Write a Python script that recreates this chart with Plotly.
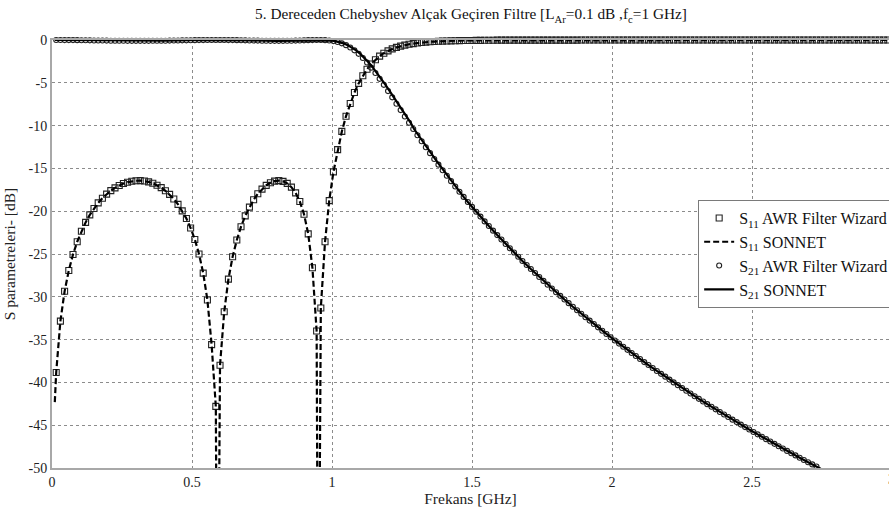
import plotly.graph_objects as go

# ---------------- data ----------------
freq_awr = [
    0.015, 0.03, 0.045, 0.06, 0.075, 0.09, 0.105, 0.12, 0.135, 0.15,
    0.165, 0.18, 0.195, 0.21, 0.225, 0.24, 0.255, 0.27, 0.285, 0.3,
    0.315, 0.33, 0.345, 0.36, 0.375, 0.39, 0.405, 0.42, 0.435, 0.45,
    0.465, 0.48, 0.495, 0.51, 0.525, 0.54, 0.555, 0.57, 0.585, 0.6,
    0.615, 0.63, 0.645, 0.66, 0.675, 0.69, 0.705, 0.72, 0.735, 0.75,
    0.765, 0.78, 0.795, 0.81, 0.825, 0.84, 0.855, 0.87, 0.885, 0.9,
    0.915, 0.93, 0.945, 0.96, 0.975, 0.99, 1.005, 1.02, 1.035, 1.05,
    1.065, 1.08, 1.095, 1.11, 1.125, 1.14, 1.155, 1.17, 1.185, 1.2,
    1.215, 1.23, 1.245, 1.26, 1.275, 1.29, 1.305, 1.32, 1.335, 1.35,
    1.365, 1.38, 1.395, 1.41, 1.425, 1.44, 1.455, 1.47, 1.485, 1.5,
    1.515, 1.53, 1.545, 1.56, 1.575, 1.59, 1.605, 1.62, 1.635, 1.65,
    1.665, 1.68, 1.695, 1.71, 1.725, 1.74, 1.755, 1.77, 1.785, 1.8,
    1.815, 1.83, 1.845, 1.86, 1.875, 1.89, 1.905, 1.92, 1.935, 1.95,
    1.965, 1.98, 1.995, 2.01, 2.025, 2.04, 2.055, 2.07, 2.085, 2.1,
    2.115, 2.13, 2.145, 2.16, 2.175, 2.19, 2.205, 2.22, 2.235, 2.25,
    2.265, 2.28, 2.295, 2.31, 2.325, 2.34, 2.355, 2.37, 2.385, 2.4,
    2.415, 2.43, 2.445, 2.46, 2.475, 2.49, 2.505, 2.52, 2.535, 2.55,
    2.565, 2.58, 2.595, 2.61, 2.625, 2.64, 2.655, 2.67, 2.685, 2.7,
    2.715, 2.73, 2.745, 2.76, 2.775, 2.79, 2.805, 2.82, 2.835, 2.85,
    2.865, 2.88, 2.895, 2.91, 2.925, 2.94, 2.955, 2.97, 2.985, 3.0,
]

s11_awr = [
    -38.84, -32.84, -29.36, -26.92, -25.06, -23.57, -22.34, -21.31, -20.43, -19.68,
    -19.03, -18.48, -18.01, -17.60, -17.27, -16.99, -16.77, -16.61, -16.50, -16.44,
    -16.43, -16.48, -16.58, -16.74, -16.97, -17.25, -17.61, -18.04, -18.57, -19.20,
    -19.96, -20.86, -21.96, -23.30, -25.00, -27.23, -30.38, -35.59, -42.80, -38.00,
    -31.75, -27.94, -25.32, -23.36, -21.81, -20.55, -19.52, -18.67, -17.97, -17.42,
    -16.98, -16.67, -16.49, -16.43, -16.51, -16.75, -17.19, -17.86, -18.87, -20.35,
    -22.65, -26.61, -34.00, -31.30, -23.57, -18.77, -15.41, -12.81, -10.68, -8.90,
    -7.41, -6.14, -5.07, -4.17, -3.42, -2.81, -2.30, -1.88, -1.54, -1.27,
    -1.04, -0.86, -0.72, -0.60, -0.50, -0.42, -0.35, -0.30, -0.25, -0.21,
    -0.18, -0.15, -0.13, -0.11, -0.10, -0.09, -0.07, -0.06, -0.06, -0.05,
    -0.04, -0.04, -0.03, -0.03, -0.03, -0.02, -0.02, -0.02, -0.02, -0.01,
    -0.01, -0.01, -0.01, -0.01, -0.01, -0.01, -0.01, -0.01, -0.01, -0.01,
    -0.01, -0.01, -0.01, -0.01, -0.01, 0.00, 0.00, 0.00, 0.00, 0.00,
    0.00, 0.00, 0.00, 0.00, 0.00, 0.00, 0.00, 0.00, 0.00, 0.00,
    0.00, 0.00, 0.00, 0.00, 0.00, 0.00, 0.00, 0.00, 0.00, 0.00,
    0.00, 0.00, 0.00, 0.00, 0.00, 0.00, 0.00, 0.00, 0.00, 0.00,
    0.00, 0.00, 0.00, 0.00, 0.00, 0.00, 0.00, 0.00, 0.00, 0.00,
    0.00, 0.00, 0.00, 0.00, 0.00, 0.00, 0.00, 0.00, 0.00, 0.00,
    0.00, 0.00, 0.00, 0.00, 0.00, 0.00, 0.00, 0.00, 0.00, 0.00,
    0.00, 0.00, 0.00, 0.00, 0.00, 0.00, 0.00, 0.00, 0.00, 0.00,
]

s21_awr = [
    0.00, 0.00, -0.01, -0.01, -0.01, -0.02, -0.03, -0.03, -0.04, -0.05,
    -0.05, -0.06, -0.07, -0.08, -0.08, -0.09, -0.09, -0.10, -0.10, -0.10,
    -0.10, -0.10, -0.10, -0.09, -0.09, -0.08, -0.08, -0.07, -0.06, -0.05,
    -0.04, -0.04, -0.03, -0.02, -0.01, -0.01, 0.00, 0.00, 0.00, 0.00,
    0.00, -0.01, -0.01, -0.02, -0.03, -0.04, -0.05, -0.06, -0.07, -0.08,
    -0.09, -0.10, -0.10, -0.10, -0.10, -0.09, -0.09, -0.07, -0.06, -0.04,
    -0.02, -0.01, 0.00, 0.00, -0.02, -0.06, -0.13, -0.23, -0.39, -0.60,
    -0.87, -1.21, -1.62, -2.10, -2.63, -3.23, -3.86, -4.54, -5.24, -5.97,
    -6.70, -7.44, -8.19, -8.93, -9.67, -10.40, -11.12, -11.83, -12.53, -13.22,
    -13.90, -14.56, -15.22, -15.86, -16.49, -17.12, -17.73, -18.33, -18.92, -19.50,
    -20.07, -20.63, -21.19, -21.73, -22.27, -22.79, -23.31, -23.83, -24.33, -24.83,
    -25.32, -25.81, -26.28, -26.76, -27.22, -27.68, -28.14, -28.58, -29.03, -29.46,
    -29.89, -30.32, -30.74, -31.16, -31.57, -31.98, -32.39, -32.78, -33.18, -33.57,
    -33.96, -34.34, -34.72, -35.10, -35.47, -35.84, -36.20, -36.56, -36.92, -37.27,
    -37.63, -37.97, -38.32, -38.66, -39.00, -39.33, -39.67, -40.00, -40.32, -40.65,
    -40.97, -41.29, -41.61, -41.92, -42.23, -42.54, -42.85, -43.15, -43.45, -43.75,
    -44.05, -44.35, -44.64, -44.93, -45.22, -45.51, -45.79, -46.07, -46.35, -46.63,
    -46.91, -47.18, -47.46, -47.73, -48.00, -48.27, -48.53, -48.80, -49.06, -49.32,
    -49.58, -49.83,
]

# SONNET S11: same sweep plus the extra points where its nulls lie
son_s11_extra_freq = [0.01, 0.591, 0.951]
son_s11_extra_db = [-42.3, -80.0, -80.0]

# SONNET S21 sweep
son_s21_freq = [
    0.01, 0.1, 0.2, 0.3, 0.4, 0.5, 0.6, 0.7, 0.8, 0.9, 0.95, 0.98,
    0.996, 1.011, 1.026, 1.041, 1.056, 1.071, 1.086, 1.101, 1.116, 1.131,
    1.146, 1.161, 1.176, 1.191, 1.206, 1.221, 1.236, 1.251, 1.266, 1.281,
    1.293, 1.308, 1.323, 1.338, 1.353, 1.368, 1.383, 1.398, 1.413, 1.428,
    1.44, 1.455, 1.47, 1.485, 1.5,
    1.53, 1.56, 1.59, 1.62, 1.65, 1.68, 1.71, 1.74, 1.77, 1.8,
    1.83, 1.86, 1.89, 1.92, 1.95, 1.98, 2.01, 2.04, 2.07, 2.1,
    2.13, 2.16, 2.19, 2.22, 2.25, 2.28, 2.31, 2.34, 2.37, 2.4,
    2.43, 2.46, 2.49, 2.52, 2.55, 2.58, 2.61, 2.64, 2.67, 2.7,
    2.73, 2.745,
]
son_s21_db = [
    0.0, -0.02, -0.06, -0.10, -0.08, -0.03, 0.0, -0.05, -0.10, -0.04, 0.0, -0.03,
    -0.06, -0.13, -0.23, -0.39, -0.60, -0.87, -1.21, -1.62, -2.10, -2.63,
    -3.23, -3.86, -4.54, -5.24, -5.97, -6.70, -7.44, -8.19, -8.93, -9.67,
    -10.40, -11.12, -11.83, -12.53, -13.22, -13.90, -14.56, -15.22, -15.86, -16.49,
    -17.12, -17.73, -18.33, -18.92, -19.50,
    -20.63, -21.73, -22.79, -23.83, -24.83, -25.81, -26.76, -27.68, -28.58, -29.46,
    -30.32, -31.16, -31.98, -32.78, -33.57, -34.34, -35.10, -35.84, -36.56, -37.27,
    -37.97, -38.66, -39.33, -40.00, -40.65, -41.29, -41.92, -42.54, -43.15, -43.75,
    -44.35, -44.93, -45.51, -46.07, -46.63, -47.18, -47.73, -48.27, -48.80, -49.32,
    -49.83, -50.09,
]

x_tick_vals = [0, 0.5, 1, 1.5, 2, 2.5, 3]
x_tick_text = ["0", "0.5", "1", "1.5", "2", "2.5", "3"]
y_tick_vals = [0, -5, -10, -15, -20, -25, -30, -35, -40, -45, -50]
y_tick_text = ["0", "-5", "-10", "-15", "-20", "-25", "-30", "-35", "-40", "-45", "-50"]

# build SONNET S11 table from sweep + null points
pairs = sorted(list(zip(freq_awr, s11_awr)) + list(zip(son_s11_extra_freq, son_s11_extra_db)))
son_s11_freq = [p[0] for p in pairs]
son_s11_db = [p[1] for p in pairs]

# ---------------- figure ----------------
SERIF = "Liberation Serif, Times New Roman, serif"
fig = go.Figure()

fig.add_trace(go.Scatter(
    x=freq_awr, y=s11_awr, mode="markers",
    name="S<sub>11</sub> AWR Filter Wizard", legendgroup="a",
    marker=dict(symbol="square-open", size=6, color="#222", line=dict(width=1.1, color="#222")),
    cliponaxis=False,
))
fig.add_trace(go.Scatter(
    x=son_s11_freq, y=son_s11_db, mode="lines",
    name="S<sub>11</sub> SONNET", legendgroup="b",
    line=dict(color="black", width=2.2, dash="6px,3px"),
))
fig.add_trace(go.Scatter(
    x=freq_awr[:len(s21_awr)], y=s21_awr, mode="markers",
    name="S<sub>21</sub> AWR Filter Wizard", legendgroup="c",
    marker=dict(symbol="circle-open", size=5, color="#222", line=dict(width=1.1, color="#222")),
    cliponaxis=False,
))
fig.add_trace(go.Scatter(
    x=son_s21_freq, y=son_s21_db, mode="lines",
    name="S<sub>21</sub> SONNET", legendgroup="d",
    line=dict(color="black", width=2.2),
))

axis_common = dict(
    showgrid=True, gridcolor="#8c8c8c", griddash="dot", gridwidth=1,
    showline=True, linecolor="#a8a8a8", linewidth=2, mirror=True,
    zeroline=False, ticks="", tickfont=dict(family=SERIF, size=14, color="#222"),
)

fig.update_layout(
    width=889, height=508,
    margin=dict(l=52, r=0, t=40, b=40, autoexpand=False),
    paper_bgcolor="white", plot_bgcolor="white",
    title=dict(
        text="5. Dereceden Chebyshev Alçak Geçiren Filtre [L<sub>Ar</sub>=0.1 dB ,f<sub>c</sub>=1 GHz]",
        x=(471 / 889), xanchor="center", y=1 - 14 / 508, yanchor="middle",
        font=dict(family=SERIF, size=15.3, color="#111"),
    ),
    xaxis=dict(
        range=[0, 2.989], tickvals=x_tick_vals, ticktext=x_tick_text,
        title=dict(text="Frekans [GHz]", font=dict(family=SERIF, size=15.5, color="#222"), standoff=2),
        **axis_common,
    ),
    yaxis=dict(
        range=[-50, 0], tickvals=y_tick_vals, ticktext=y_tick_text,
        title=dict(text="S parametreleri- [dB]", font=dict(family=SERIF, size=15.5, color="#222"), standoff=9),
        **axis_common,
    ),
    legend=dict(
        x=0.772, y=0.626, xanchor="left", yanchor="top",
        bgcolor="white", bordercolor="#7a7a7a", borderwidth=1,
        font=dict(family=SERIF, size=16, color="#111"),
        tracegroupgap=0,
    ),
    annotations=[dict(
        x=1.0032, y=0, xref="paper", yref="paper", text="3", showarrow=False,
        xanchor="center", yanchor="top", yshift=-2,
        font=dict(family=SERIF, size=14, color="#222"),
    )],
)

fig.write_html("out.html")
